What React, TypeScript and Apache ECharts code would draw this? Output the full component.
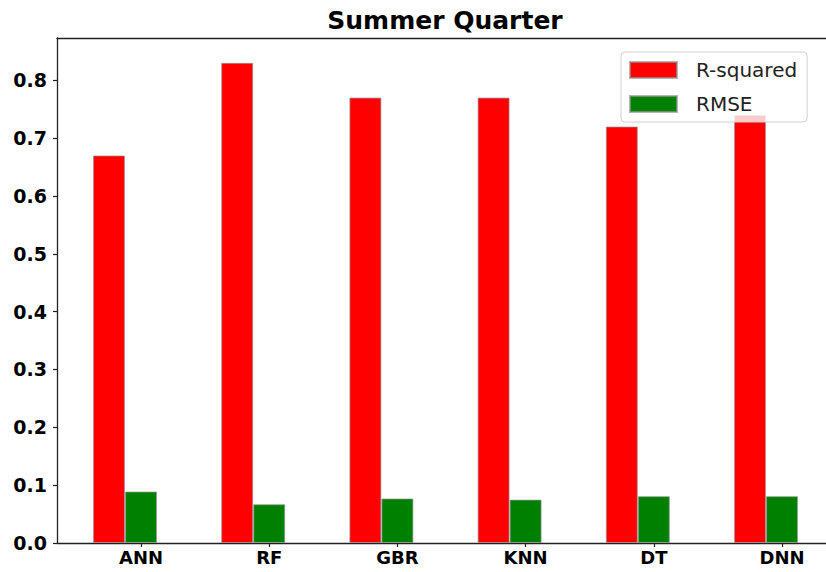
import React, { useEffect, useRef } from "react";
import * as echarts from "echarts";

const titleText = "Summer Quarter";
const categories = ["ANN", "RF", "GBR", "KNN", "DT", "DNN"];
const rSquared = [0.67, 0.83, 0.77, 0.77, 0.72, 0.74];
const rmse = [0.089, 0.067, 0.077, 0.075, 0.081, 0.081];
const yTicks = [0, 0.1, 0.2, 0.3, 0.4, 0.5, 0.6, 0.7, 0.8];
const seriesNames = ["R-squared", "RMSE"];

export default function App() {
  const ref = useRef<HTMLDivElement>(null);
  useEffect(() => {
    if (!ref.current) return;
    const chart = echarts.init(ref.current, null, { renderer: "svg" });
    const labelOffset = 0.125;
    const xTickValues = categories.map((_, i) => i + labelOffset);
    const barBorder = { borderColor: "rgba(150,150,150,0.7)", borderWidth: 1 };
    chart.setOption({
      animation: false,
      backgroundColor: "#ffffff",
      title: {
        text: titleText,
        left: 445,
        top: 8,
        padding: 0,
        textAlign: "center",
        textStyle: {
          fontFamily: "DejaVu Sans",
          fontWeight: "bold",
          fontSize: 25,
          color: "#000",
        },
      },
      legend: {
        orient: "vertical",
        left: 621,
        top: 52,
        padding: [8, 10, 8, 8],
        itemWidth: 47,
        itemHeight: 16,
        itemGap: 14,
        icon: "rect",
        backgroundColor: "rgba(255,255,255,0.8)",
        borderColor: "#d0d0d0",
        borderWidth: 1,
        borderRadius: 4,
        textStyle: {
          fontFamily: "DejaVu Sans",
          fontSize: 20,
          color: "#222",
          padding: [0, 0, 0, 14],
        },
        data: seriesNames,
      },
      grid: { left: 57, right: 0, top: 38, bottom: 29, containLabel: false },
      xAxis: [
        {
          type: "value",
          min: -0.5304,
          max: -0.5304 + 769 / 128.2,
          splitLine: { show: false },
          axisLine: { show: true, onZero: false, lineStyle: { color: "#222", width: 1.3 } },
          axisTick: {
            show: true,
            length: 4,
            customValues: xTickValues,
            lineStyle: { color: "#222", width: 1.2 },
          },
          axisLabel: {
            customValues: xTickValues,
            margin: 5,
            fontFamily: "DejaVu Sans",
            fontWeight: "bold",
            fontSize: 18,
            color: "#000",
            formatter: (v: number) => categories[Math.round(v - labelOffset)] ?? "",
          },
        },
        {
          type: "value",
          position: "top",
          min: 0,
          max: 1,
          splitLine: { show: false },
          axisLine: { show: true, onZero: false, lineStyle: { color: "#222", width: 1.3 } },
          axisTick: { show: false },
          axisLabel: { show: false },
        },
      ],
      yAxis: {
        type: "value",
        min: 0,
        max: 0.873,
        splitLine: { show: false },
        axisLine: { show: true, onZero: false, lineStyle: { color: "#222", width: 1.3 } },
        axisTick: {
          show: true,
          length: 4,
          customValues: yTicks,
          lineStyle: { color: "#222", width: 1.2 },
        },
        axisLabel: {
          customValues: yTicks,
          margin: 10,
          fontFamily: "DejaVu Sans",
          fontWeight: "bold",
          fontSize: 19,
          color: "#000",
          formatter: (v: number) => v.toFixed(1),
        },
      },
      series: [
        {
          name: seriesNames[0],
          type: "bar",
          xAxisIndex: 0,
          barWidth: 32,
          barGap: "0%",
          itemStyle: { color: "#ff0000", ...barBorder },
          data: categories.map((_, i) => [i, rSquared[i]]),
        },
        {
          name: seriesNames[1],
          type: "bar",
          xAxisIndex: 0,
          barWidth: 32,
          barGap: "0%",
          itemStyle: { color: "#008000", ...barBorder },
          data: categories.map((_, i) => [i, rmse[i]]),
        },
      ],
    });
    return () => chart.dispose();
  }, []);
  return (
    <div
      ref={ref}
      style={{ position: "fixed", left: 0, top: 0, width: 826, height: 572 }}
    />
  );
}
